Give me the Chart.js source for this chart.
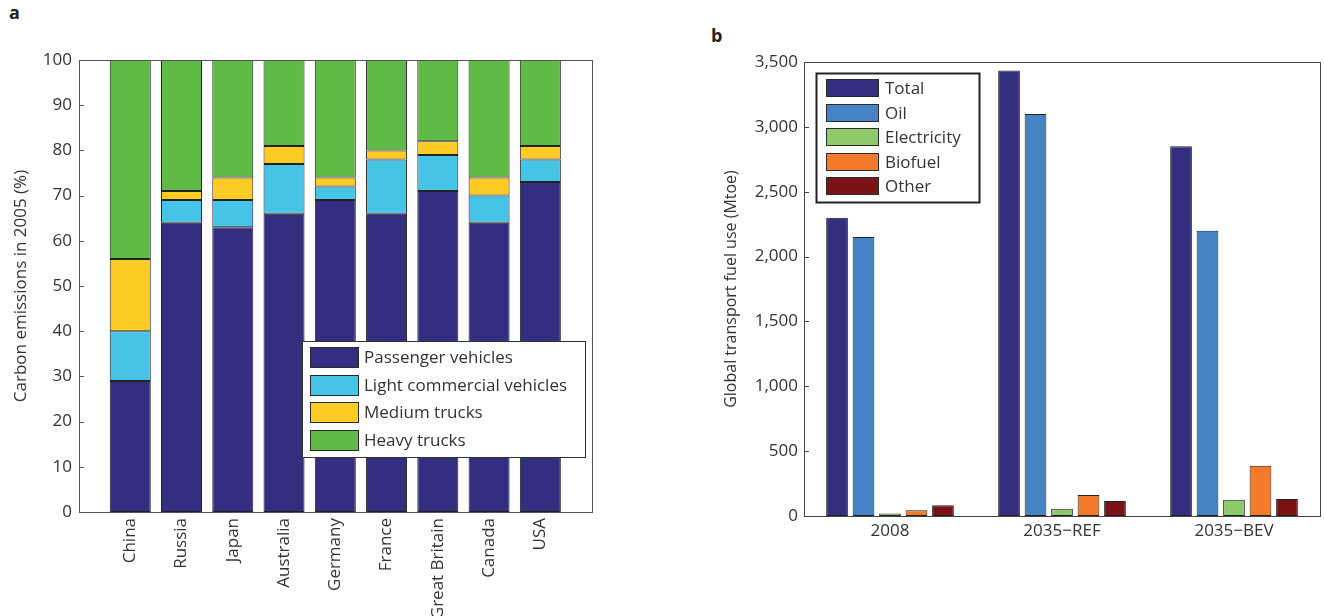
<!DOCTYPE html>
<html><head><meta charset="utf-8">
<script src="https://cdn.jsdelivr.net/npm/chart.js@4.4.1/dist/chart.umd.min.js"></script>
<style>
html,body{margin:0;padding:0;background:#fff;}
body{width:1324px;height:616px;position:relative;overflow:hidden;font-family:"Open Sans",sans-serif;}
#wa{position:absolute;left:0;top:0;width:618px;height:616px;}
#wb{position:absolute;left:700px;top:0;width:624px;height:616px;}
.panel{position:absolute;font-weight:700;font-size:18px;line-height:18px;color:#222;}
</style></head><body>
<div class="panel" style="left:9px;top:3px">a</div>
<div class="panel" style="left:711px;top:26px">b</div>
<div id="wa"><canvas id="ca"></canvas></div>
<div id="wb"><canvas id="cb"></canvas></div>
<script>
// ---- Panel a data ----
const countries = ['China','Russia','Japan','Australia','Germany','France','Great Britain','Canada','USA'];
const passengerVehicles = [29,64,63,66,69,66,71,64,73];
const lightCommercial   = [11,5,6,11,3,12,8,6,5];
const mediumTrucks      = [16,2,5,4,2,2,3,4,3];
const heavyTrucks       = [44,29,26,19,26,20,18,26,19];
const pctTicks = [0,10,20,30,40,50,60,70,80,90,100];

// ---- Panel b data ----
const scenarios = ['2008','2035\u2212REF','2035\u2212BEV'];
const totalFuel   = [2300,3435,2850];
const oilFuel     = [2150,3100,2200];
const electricity = [20,55,126];
const biofuel     = [44,162,387];
const otherFuel   = [82,116,131];
const fuelTicks = [0,500,1000,1500,2000,2500,3000,3500];

Chart.defaults.font.family = "'Open Sans', sans-serif";
Chart.defaults.color = '#333';

const framePlugin = {
  id: 'frame',
  afterDraw(chart, args, o) {
    const {ctx, chartArea: a} = chart;
    const y = chart.scales.y;
    ctx.save();
    ctx.strokeStyle = o.color; ctx.lineWidth = 1;
    ctx.beginPath();
    y.ticks.forEach(t => {
      const py = Math.round(y.getPixelForValue(t.value)) + 0.5;
      ctx.moveTo(a.left, py); ctx.lineTo(a.left + o.tick, py);
    });
    ctx.stroke();
    ctx.strokeRect(Math.round(a.left) + 0.5, Math.round(a.top) + 0.5,
                   Math.round(a.right - a.left), Math.round(a.bottom - a.top));
    ctx.restore();
  }
};

const boxLegend = {
  id: 'boxLegend',
  afterDraw(chart, args, o) {
    const {ctx, chartArea: a} = chart;
    const x0 = Math.round(a.left + o.dx), y0 = Math.round(a.top + o.dy);
    ctx.save();
    ctx.fillStyle = '#fff';
    ctx.fillRect(x0, y0, o.w, o.h);
    ctx.lineWidth = o.lw; ctx.strokeStyle = o.border;
    ctx.strokeRect(x0 + 0.5, y0 + 0.5, o.w, o.h);
    ctx.font = o.font; ctx.textBaseline = 'middle'; ctx.textAlign = 'left';
    chart.data.datasets.forEach((ds, i) => {
      const top = Math.round(y0 + o.padTop + i * o.row);
      ctx.fillStyle = ds.backgroundColor;
      ctx.fillRect(x0 + o.sx, top, o.sw, o.sh);
      ctx.lineWidth = 1; ctx.strokeStyle = '#2a2a2a';
      ctx.strokeRect(x0 + o.sx + 0.5, top + 0.5, o.sw - 1, o.sh - 1);
      ctx.fillStyle = '#333';
      ctx.fillText(ds.label, x0 + o.tx, top + o.sh / 2 + 1);
    });
    ctx.restore();
  }
};

const pad = arr => [null, ...arr, null];
function barSet(label, data, color, bp, cp) {
  return {label, data, backgroundColor: color, borderColor: '#222', borderWidth: 1, borderSkipped: false,
          barPercentage: bp, categoryPercentage: cp};
}

new Chart(document.getElementById('ca'), {
  type: 'bar',
  data: {
    labels: ['', ...countries, ''],
    datasets: [
      barSet('Passenger vehicles', pad(passengerVehicles), '#332e80', 0.8, 1),
      barSet('Light commercial vehicles', pad(lightCommercial), '#45c4e8', 0.8, 1),
      barSet('Medium trucks', pad(mediumTrucks), '#fccc25', 0.8, 1),
      barSet('Heavy trucks', pad(heavyTrucks), '#5fba46', 0.8, 1)
    ]
  },
  plugins: [framePlugin, boxLegend],
  options: {
    responsive: true, maintainAspectRatio: false, animation: false,
    layout: {padding: {top: 60, right: 7, left: 0, bottom: 0}},
    plugins: {
      legend: {display: false}, tooltip: {enabled: false},
      frame: {color: '#555', tick: 5},
      boxLegend: {dx: 223, dy: 281, w: 283, h: 116, lw: 1, border: '#333', font: "17px 'Open Sans'",
                  sx: 8, sw: 49, sh: 21, padTop: 6, row: 27.7, tx: 62}
    },
    scales: {
      x: {stacked: true, offset: false, grid: {display: false, offset: false, drawTicks: false}, border: {display: false},
          ticks: {minRotation: 90, maxRotation: 90, autoSkip: false, padding: 6, color: '#333', font: {size: 17}},
          afterFit: s => { s.height = 104; }},
      y: {stacked: true, min: 0, max: 100, grid: {display: false, drawTicks: false}, border: {display: false},
          afterBuildTicks: s => { s.ticks = pctTicks.map(v => ({value: v})); },
          ticks: {padding: 7, color: '#333', font: {size: 17}},
          title: {display: true, text: 'Carbon emissions in 2005 (%)', color: '#333', font: {size: 17}, padding: {top: 11, bottom: 0}},
          afterFit: s => { s.width = 79; }}
    }
  }
});

new Chart(document.getElementById('cb'), {
  type: 'bar',
  data: {
    labels: scenarios,
    datasets: [
      barSet('Total', totalFuel, '#332e80', 0.82, 0.77),
      barSet('Oil', oilFuel, '#4683c5', 0.82, 0.77),
      barSet('Electricity', electricity, '#8fc96a', 0.82, 0.77),
      barSet('Biofuel', biofuel, '#f47a2c', 0.82, 0.77),
      barSet('Other', otherFuel, '#7a1315', 0.82, 0.77)
    ]
  },
  plugins: [framePlugin, boxLegend],
  options: {
    responsive: true, maintainAspectRatio: false, animation: false,
    layout: {padding: {top: 62, right: 4, left: 0, bottom: 0}},
    plugins: {
      legend: {display: false}, tooltip: {enabled: false},
      frame: {color: '#444', tick: 5},
      boxLegend: {dx: 12, dy: 11, w: 163, h: 129, lw: 2, border: '#222', font: "17px 'Open Sans'",
                  sx: 10, sw: 53, sh: 18, padTop: 6, row: 24.6, tx: 69}
    },
    scales: {
      x: {grid: {display: false, drawTicks: false}, border: {display: false},
          ticks: {padding: 5, color: '#333', font: {size: 17}},
          afterFit: s => { s.height = 100; }},
      y: {min: 0, max: 3500, grid: {display: false, drawTicks: false}, border: {display: false},
          afterBuildTicks: s => { s.ticks = fuelTicks.map(v => ({value: v})); },
          ticks: {padding: 6, color: '#333', font: {size: 17}, callback: v => Number(v).toLocaleString('en-US')},
          title: {display: true, text: 'Global transport fuel use (Mtoe)', color: '#333', font: {size: 16}, padding: {top: 22, bottom: 0}},
          afterFit: s => { s.width = 104; }}
    }
  }
});
</script>
</body></html>
